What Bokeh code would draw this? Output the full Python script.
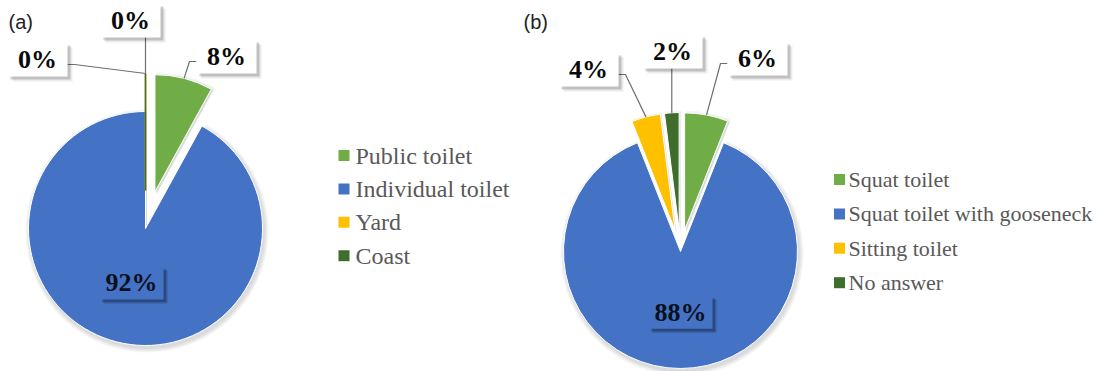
import math
from bokeh.plotting import figure
from bokeh.models import Range1d
from bokeh.embed import file_html
from bokeh.resources import INLINE
from bokeh.core.properties import value

# ---------------- data ----------------
cats_a = ["Public toilet", "Individual toilet", "Yard", "Coast"]
vals_a = [8, 92, 0, 0]
cats_b = ["Squat toilet", "Squat toilet with gooseneck", "Sitting toilet", "No answer"]
vals_b = [6, 88, 4, 2]
colors = ["#70AD47", "#4472C4", "#FFC000", "#3F6D2B"]
panel_labels = ["(a)", "(b)"]

# ---------------- layout (reference pixel coords) ----------------
W, H = 1095, 371


def Y(ry):
    return H - ry


p = figure(width=W, height=H, x_range=Range1d(0, W), y_range=Range1d(0, H),
           output_backend="svg", toolbar_location=None, min_border=0)
p.axis.visible = False
p.grid.visible = False
p.outline_line_color = None
p.background_fill_color = "white"
p.border_fill_color = "white"

SERIF = value("Liberation Serif")
SANS = value("Liberation Sans")


def draw_pie(cx, cy_ref, R, vals, explode, label_pos, label_side, inner_frac, box_w):
    cy = Y(cy_ref)
    total = float(sum(vals))
    cum = 0.0
    geo = []
    for v, e in zip(vals, explode):
        frac = v / total
        a0 = 90.0 - 360.0 * cum
        a1 = a0 - 360.0 * frac
        mid = (a0 + a1) / 2.0
        ox = cx + e * math.cos(math.radians(mid))
        oy = cy + e * math.sin(math.radians(mid))
        geo.append((frac, a0, a1, mid, ox, oy))
        cum += frac
    # soft shadow
    for k in range(4):
        for (frac, a0, a1, mid, ox, oy) in geo:
            if frac > 0:
                p.wedge(x=[ox + 1.5], y=[oy - 2.5], radius=R + 1 + 1.2 * k,
                        start_angle=math.radians(a1), end_angle=math.radians(a0),
                        fill_color="black", fill_alpha=0.035, line_color=None)
    # slices
    for i, (frac, a0, a1, mid, ox, oy) in enumerate(geo):
        if frac > 0:
            p.wedge(x=[ox], y=[oy], radius=R, start_angle=math.radians(a1),
                    end_angle=math.radians(a0), fill_color=colors[i],
                    line_color="white", line_width=1)
    for i, (frac, a0, a1, mid, ox, oy) in enumerate(geo):
        if frac == 0:
            p.segment(x0=[ox], y0=[oy], x1=[ox + R * math.cos(math.radians(a0))],
                      y1=[oy + R * math.sin(math.radians(a0))],
                      line_color=colors[i], line_width=1.6)
    # labels
    for i, (frac, a0, a1, mid, ox, oy) in enumerate(geo):
        txt = "%d%%" % round(vals[i])
        if label_pos[i] is None:
            lx = ox + inner_frac * R * math.cos(math.radians(mid))
            ly = oy + inner_frac * R * math.sin(math.radians(mid))
            bw, bh = box_w + 4, 33
            p.rect(x=[lx + 4], y=[ly - 4], width=bw, height=bh,
                   fill_color="black", fill_alpha=0.18, line_color=None)
            p.rect(x=[lx + 2.5], y=[ly - 2.5], width=bw, height=bh,
                   fill_color="black", fill_alpha=0.22, line_color=None)
            p.rect(x=[lx], y=[ly], width=bw, height=bh,
                   fill_color=colors[i], line_color=None)
            p.text(x=[lx], y=[ly], text=[txt], text_align="center",
                   text_baseline="middle", text_font=SERIF, text_font_style="bold",
                   text_font_size="26px", text_color="#0B1020")
            continue
        bx, by_ref = label_pos[i]
        by = Y(by_ref)
        bw, bh = box_w, 34
        tx = ox + R * math.cos(math.radians(mid))
        ty = oy + R * math.sin(math.radians(mid))
        side = label_side[i]
        if side == "left":
            sx, sy = bx - bw / 2, by - 5
            p.line(x=[sx, sx - 7, tx], y=[sy, sy, ty], line_color="#6E6E6E", line_width=1.2)
        elif side == "right":
            sx, sy = bx + bw / 2, by - 5
            p.line(x=[sx, sx + 7, tx], y=[sy, sy, ty], line_color="#6E6E6E", line_width=1.2)
        else:
            sx = tx if (bx - bw / 2 < tx < bx + bw / 2) else bx
            sy = by - bh / 2
            p.line(x=[sx, tx], y=[sy, ty], line_color="#6E6E6E", line_width=1.2)
        p.rect(x=[bx + 5], y=[by - 5], width=bw, height=bh,
               fill_color="black", fill_alpha=0.08, line_color=None)
        p.rect(x=[bx + 3], y=[by - 3], width=bw, height=bh,
               fill_color="black", fill_alpha=0.18, line_color=None)
        p.rect(x=[bx], y=[by], width=bw, height=bh, fill_color="white", line_color=None)
        p.text(x=[bx], y=[by], text=[txt], text_align="center", text_baseline="middle",
               text_font=SERIF, text_font_style="bold", text_font_size="26px",
               text_color="#0A0A0A")


def draw_legend(sq_x, tx, y0, dy, cats, size, font_px):
    ys = [Y(y0 + i * dy) for i in range(len(cats))]
    p.rect(x=[sq_x] * len(cats), y=ys, width=size, height=size,
           fill_color=colors[:len(cats)], line_color=None)
    p.text(x=[tx] * len(cats), y=ys, text=cats, text_baseline="middle",
           text_font=SERIF, text_font_size=font_px, text_color="#595959")


# pie (a)
draw_pie(cx=145, cy_ref=228, R=117, vals=vals_a, explode=[38, 0, 38, 38],
         label_pos=[(226, 56), None, (37, 59), (130, 20)],
         label_side=["left", None, "right", "bottom"], inner_frac=0.48, box_w=60)
# pie (b)
draw_pie(cx=680, cy_ref=251, R=117, vals=vals_b, explode=[22, 0, 22, 22],
         label_pos=[(757, 58), None, (588, 69), (672, 51)],
         label_side=["left", None, "right", "bottom"], inner_frac=0.52, box_w=60)

draw_legend(sq_x=343.5, tx=355, y0=155, dy=33.4, cats=cats_a, size=11, font_px="24px")
draw_legend(sq_x=839, tx=848, y0=179, dy=34.4, cats=cats_b, size=11, font_px="22px")

p.text(x=[8, 523], y=[Y(21), Y(21)], text=panel_labels, text_baseline="middle",
       text_font=SANS, text_font_size="20px", text_color="#222222")

open("out.html", "w").write(file_html(p, INLINE))
